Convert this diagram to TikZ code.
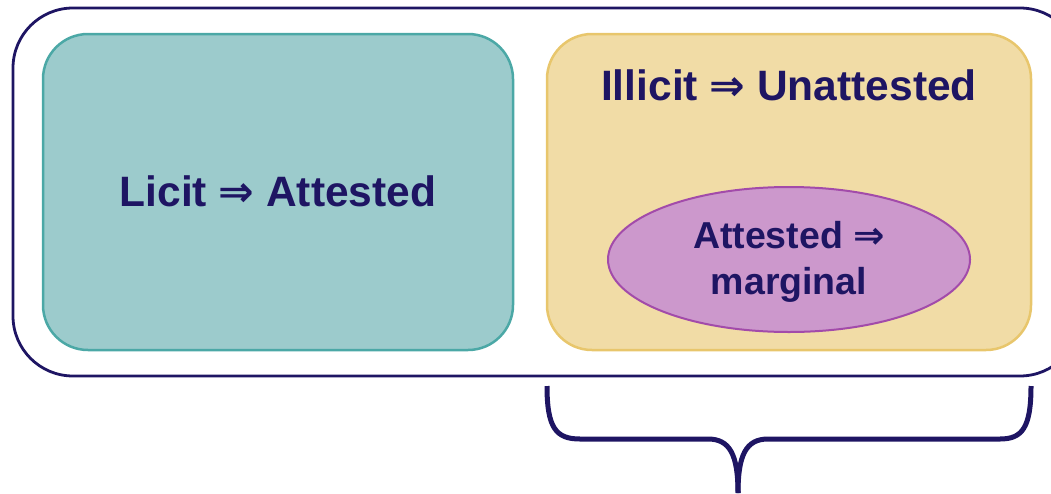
\documentclass[tikz,border=0pt]{standalone}
\usepackage{fontspec}
\setmainfont{Liberation Sans}
\newfontfamily\arrowfont{DejaVu Sans}
\usetikzlibrary{shapes.geometric}
\definecolor{ink}{HTML}{1E1563}
\definecolor{tealfill}{HTML}{9CCBCC}
\definecolor{tealline}{HTML}{4BA8A6}
\definecolor{sandfill}{HTML}{F1DCA6}
\definecolor{sandline}{HTML}{E8C66C}
\definecolor{plumfill}{HTML}{CC98CC}
\definecolor{plumline}{HTML}{A24BAA}
\newcommand{\impl}{{\arrowfont\bfseries ⇒}}
\tikzset{
  panel/.style={rounded corners=45pt, line width=2.5pt},
  label/.style={text=ink, font=\bfseries\fontsize{42.5}{50}\selectfont, align=center},
  small/.style={text=ink, font=\bfseries\fontsize{37.5}{46}\selectfont, align=center},
  brace/.style={draw=ink, line width=5pt}
}
\begin{document}
\begin{tikzpicture}[x=1pt, y=-1pt]
\useasboundingbox (0,0) rectangle (1051,493);
% outer frame
\draw[ink, line width=2.8pt, rounded corners=60pt] (13,8) rectangle (1080,376);
% left panel
\draw[panel, draw=tealline, fill=tealfill] (43,34) rectangle (513,350);
\node[label] (licit) at (278,191) {Licit \impl\ Attested};
% right panel
\draw[panel, draw=sandline, fill=sandfill] (547,34) rectangle (1031,350);
\node[label] (illicit) at (789,85) {Illicit \impl\ Unattested};
\node[ellipse, draw=plumline, fill=plumfill, line width=2pt,
      minimum width=362pt, minimum height=145pt, inner sep=0pt] (marg) at (789,259.5) {};
\node[small] (margtext) at (789,262) {Attested \impl\\marginal};
% brace under the right panel
\coordinate (bl) at (547,386);
\coordinate (br) at (1031,386);
\coordinate (tip) at (738,493);
\draw[brace] (bl) .. controls (547,428) and (556,439) .. (580,439) -- (708,439)
  .. controls (730,439) and (738,455) .. (tip);
\draw[brace] (br) .. controls (1031,428) and (1022,439) .. (1000,439) -- (768,439)
  .. controls (746,439) and (738,455) .. (tip);
\end{tikzpicture}
\end{document}
